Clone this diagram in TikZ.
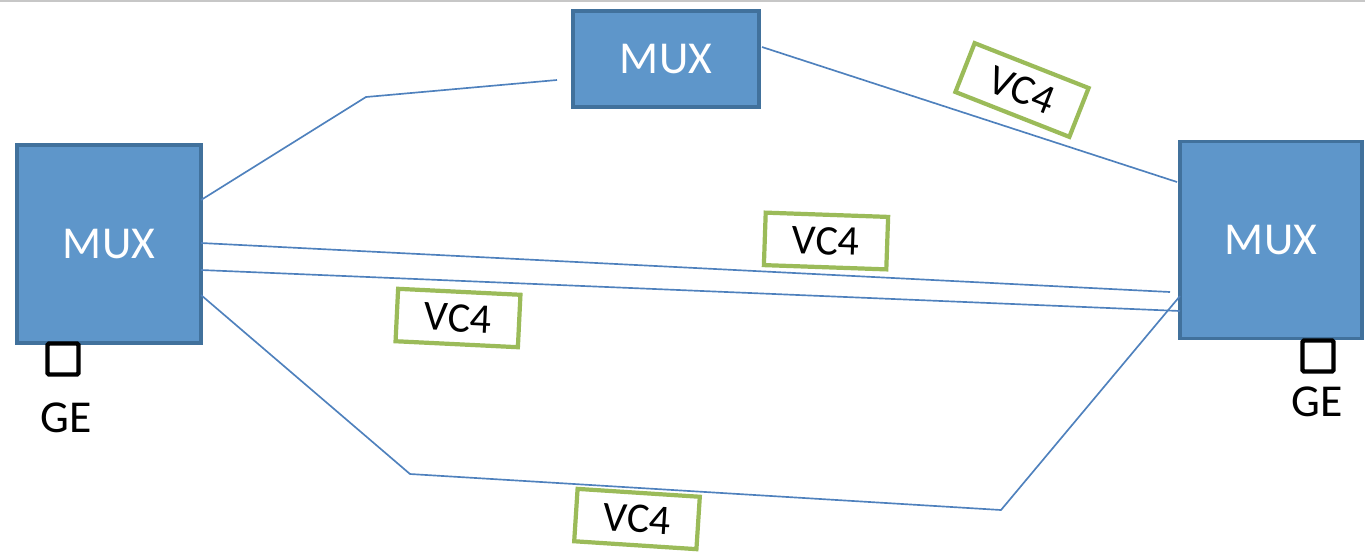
\documentclass[tikz,border=0pt]{standalone}
\usepackage{fontspec}
\setmainfont{Carlito}
\usetikzlibrary{calc}
\definecolor{muxfill}{HTML}{5E96CA}
\definecolor{muxline}{HTML}{41719C}
\definecolor{linkblue}{HTML}{4F81BD}
\definecolor{vcgreen}{HTML}{9BBB59}
\tikzset{
    mux/.style={rectangle, draw=muxline, fill=muxfill, line width=2pt, inner sep=0pt, text=white, font=\fontsize{26}{30}\selectfont},
    vcbox/.style={rectangle, draw=vcgreen, fill=white, line width=2.4pt, inner sep=0pt, minimum width=2.45cm, minimum height=1.05cm, font=\fontsize{24}{28}\selectfont},
    geport/.style={rectangle, draw=black, line width=2.5pt, rounded corners=0.8pt, inner sep=0pt, minimum size=0.62cm},
    link/.style={draw=linkblue, line width=0.95pt}
}
\begin{document}
\begin{tikzpicture}[x=0.02cm, y=-0.02cm]
        \useasboundingbox (0,0) rectangle (1365,559);
        \fill[black!22] (0,0) rectangle (1365,2);

        % multiplexers
        \node[mux, minimum width=3.68cm, minimum height=3.96cm] (muxL) at (109,244) {MUX};
        \node[mux, minimum width=3.72cm, minimum height=1.92cm] (muxT) at (666,59) {MUX};
        \node[mux, minimum width=3.64cm, minimum height=3.94cm] (muxR) at (1271,240) {MUX};

        % GE ports
        \node[geport] (geL) at (63,359) {};
        \node (geLtext) at (66,418) {\fontsize{26}{30}\selectfont GE};
        \node[geport] (geR) at (1318,356) {};
        \node (geRtext) at (1317,402) {\fontsize{26}{30}\selectfont GE};

        % link end points
        \coordinate (l1) at (201,200);
        \coordinate (l1b) at (366,97);
        \coordinate (l1e) at (557,80);
        \coordinate (t1) at (762,47);
        \coordinate (r1) at (1177,182);
        \coordinate (l2) at (201,243);
        \coordinate (r2) at (1170,292);
        \coordinate (l3) at (201,270);
        \coordinate (r3) at (1180,311);
        \coordinate (l4) at (201,295);
        \coordinate (l4b) at (410,474);
        \coordinate (l4c) at (1001,510);
        \coordinate (r4) at (1180,296);

        \draw[link] (l1) -- (l1b) -- (l1e);
        \draw[link] (t1) -- (r1);
        \draw[link] (l2) -- (r2);
        \draw[link] (l3) -- (r3);
        \draw[link] (l4) -- (l4b) -- (l4c) -- (r4);

        % VC4 labels
        \node[vcbox, rotate=-21.5] (vcA) at (1022,90) {VC4};
        \node[vcbox, rotate=-2] (vcB) at (826,241) {VC4};
        \node[vcbox, rotate=-2.8] (vcC) at (458,318) {VC4};
        \node[vcbox, rotate=-3.7] (vcD) at (637,519) {VC4};
    \end{tikzpicture}
\end{document}
